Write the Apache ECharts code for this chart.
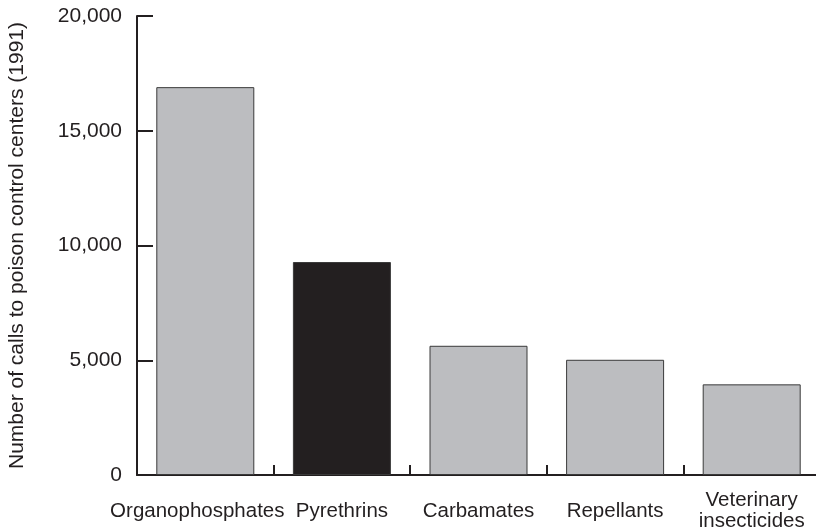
<!DOCTYPE html>
<html>
<head>
<meta charset="utf-8">
<script src="https://cdn.jsdelivr.net/npm/echarts@6/dist/echarts.min.js"></script>
<style>
html,body{margin:0;padding:0;background:#fff;}
#chart{width:816px;height:531px;}
</style>
</head>
<body>
<div id="chart"></div>
<script>
const categories = ['Organophosphates', 'Pyrethrins', 'Carbamates', 'Repellants', 'Veterinary\ninsecticides'];
const calls = [16900, 9280, 5630, 5020, 3950];
const highlighted = 'Pyrethrins';
const yTicks = [0, 5000, 10000, 15000, 20000];
const yTitle = 'Number of calls to poison control centers (1991)';

const ink = '#231f20';
const font = 'Liberation Sans, Arial, sans-serif';
const chart = echarts.init(document.getElementById('chart'), null, {renderer: 'canvas'});
chart.setOption({
  animation: false,
  backgroundColor: '#ffffff',
  textStyle: {fontFamily: font},
  grid: {left: 137, top: 16, width: 683, bottom: 56, containLabel: false, outerBoundsMode: 'none'},
  xAxis: {
    type: 'category',
    data: categories.map((c, i) => i === 0
      ? {value: c, textStyle: {padding: [0, 16, 0, 0], verticalAlign: 'middle', lineHeight: 21, fontSize: 20.5, color: ink}}
      : c),
    axisLine: {show: true, lineStyle: {color: ink, width: 2}},
    axisTick: {show: true, inside: true, length: 10, alignWithLabel: false, lineStyle: {color: ink, width: 2}},
    axisLabel: {
      color: ink, fontSize: 20.5, fontFamily: font,
      interval: 0, margin: 36, verticalAlign: 'middle', lineHeight: 21, align: 'center'
    },
    splitLine: {show: false}
  },
  yAxis: {
    type: 'value',
    min: yTicks[0],
    max: yTicks[yTicks.length - 1],
    interval: yTicks[1] - yTicks[0],
    name: yTitle,
    nameLocation: 'middle',
    nameRotate: 90,
    nameGap: 109,
    nameTextStyle: {color: ink, fontSize: 21, fontFamily: font},
    axisLine: {show: true, lineStyle: {color: ink, width: 2}},
    axisTick: {show: true, inside: true, length: 16, lineStyle: {color: ink, width: 2}},
    axisLabel: {
      color: ink, fontSize: 21, margin: 15, fontFamily: font,
      formatter: v => v.toLocaleString('en-US')
    },
    splitLine: {show: false}
  },
  series: [{
    type: 'bar',
    barWidth: 98,
    data: calls.map((v, i) => ({
      value: v,
      itemStyle: {
        color: categories[i] === highlighted ? '#231f20' : '#bcbdc0',
        borderColor: '#3a3a3a',
        borderWidth: 1
      }
    }))
  }]
});
</script>
</body>
</html>
